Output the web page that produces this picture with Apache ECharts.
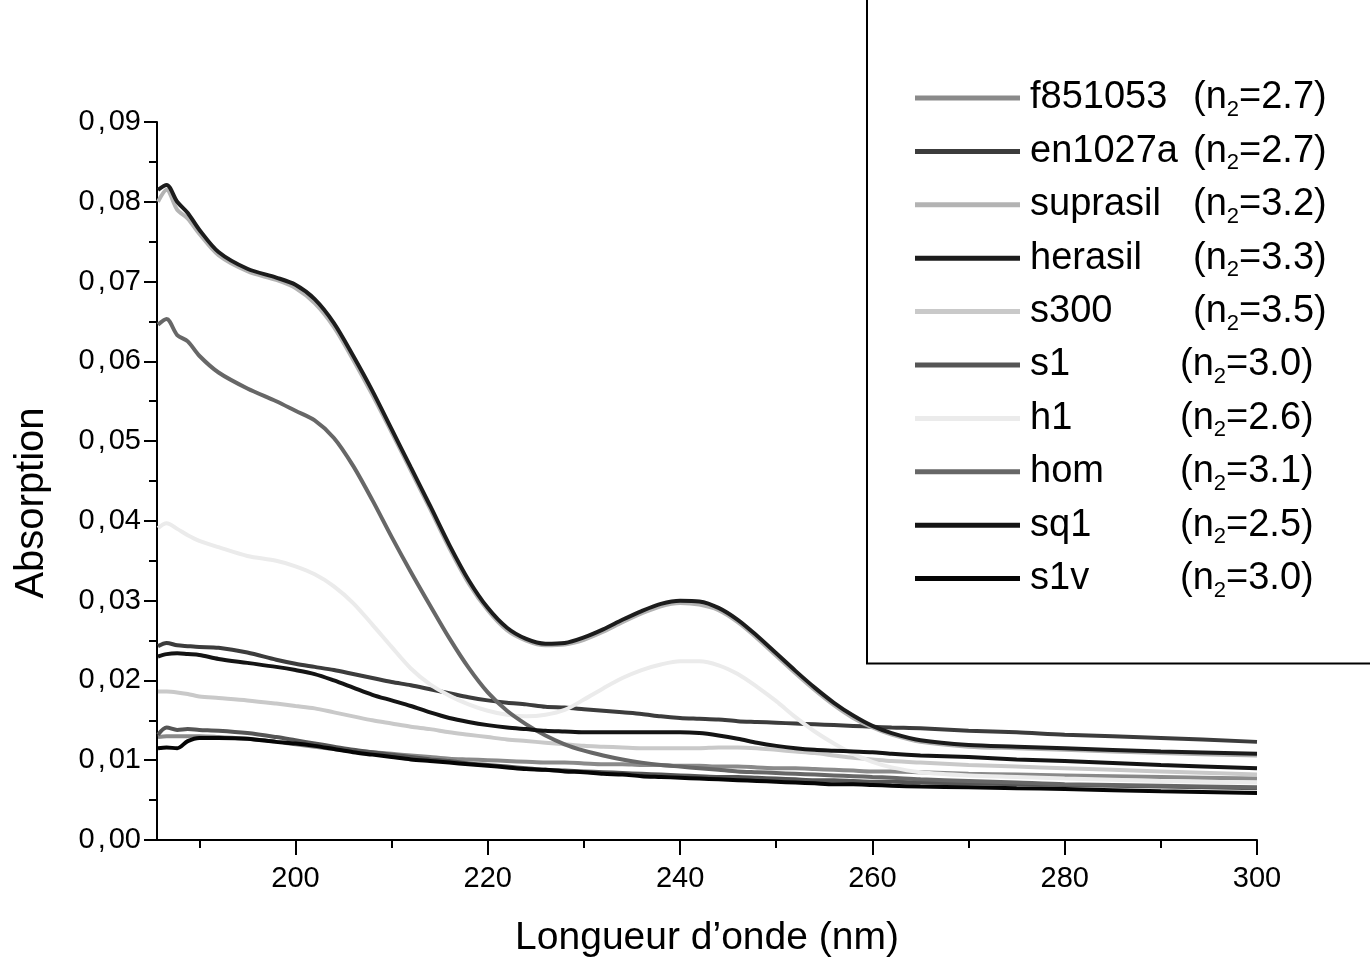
<!DOCTYPE html>
<html>
<head>
<meta charset="utf-8">
<script src="https://cdn.jsdelivr.net/npm/echarts@6/dist/echarts.min.js"></script>
<style>
html,body{margin:0;padding:0;background:#fff;overflow:hidden;}
#chart{width:1370px;height:958px;}
</style>
</head>
<body>
<div id="chart"></div>
<script>
// ---- data ----
const wavelength = [185.7, 186.6, 187.7, 188.8, 190, 192, 195, 198, 200, 202, 204, 206, 208, 210, 212, 214, 216, 218, 220, 222, 224, 226, 228, 230, 232, 234, 236, 238, 240, 242, 244, 246, 248, 250, 252, 254, 256, 258, 260, 262, 265, 270, 275, 280, 290, 300];

const f851053 = [0.0129, 0.0130, 0.0130, 0.0130, 0.0130, 0.0129, 0.0127, 0.0123, 0.0120, 0.0117, 0.0114, 0.0112, 0.0110, 0.0108, 0.0106, 0.0104, 0.0102, 0.0101, 0.0100, 0.0099, 0.0098, 0.0097, 0.0097, 0.0096, 0.0095, 0.0095, 0.0094, 0.0094, 0.0093, 0.0093, 0.0092, 0.0092, 0.0091, 0.0090, 0.0090, 0.0089, 0.0088, 0.0087, 0.0086, 0.0086, 0.0085, 0.0083, 0.0082, 0.0081, 0.0079, 0.0077];
const en1027a = [0.0243, 0.0247, 0.0244, 0.0243, 0.0242, 0.0241, 0.0235, 0.0226, 0.0221, 0.0217, 0.0213, 0.0208, 0.0203, 0.0198, 0.0194, 0.0189, 0.0184, 0.0179, 0.0175, 0.0172, 0.0170, 0.0167, 0.0166, 0.0164, 0.0162, 0.0160, 0.0158, 0.0155, 0.0153, 0.0152, 0.0151, 0.0149, 0.0148, 0.0147, 0.0146, 0.0145, 0.0144, 0.0143, 0.0142, 0.0141, 0.0140, 0.0137, 0.0135, 0.0132, 0.0128, 0.0123];
const suprasil = [0.0800, 0.0815, 0.0790, 0.0779, 0.0760, 0.0733, 0.0713, 0.0702, 0.0692, 0.0673, 0.0643, 0.0602, 0.0558, 0.0511, 0.0463, 0.0415, 0.0366, 0.0322, 0.0288, 0.0263, 0.0250, 0.0244, 0.0245, 0.0251, 0.0261, 0.0273, 0.0284, 0.0293, 0.0297, 0.0295, 0.0288, 0.0273, 0.0253, 0.0231, 0.0209, 0.0188, 0.0169, 0.0153, 0.0141, 0.0132, 0.0123, 0.0117, 0.0115, 0.0113, 0.0109, 0.0106];
const herasil = [0.0815, 0.0821, 0.0800, 0.0786, 0.0765, 0.0737, 0.0716, 0.0705, 0.0696, 0.0678, 0.0648, 0.0607, 0.0563, 0.0515, 0.0467, 0.0419, 0.0370, 0.0326, 0.0291, 0.0266, 0.0252, 0.0246, 0.0247, 0.0254, 0.0264, 0.0276, 0.0287, 0.0296, 0.0300, 0.0299, 0.0291, 0.0276, 0.0256, 0.0234, 0.0212, 0.0191, 0.0172, 0.0156, 0.0143, 0.0134, 0.0125, 0.0119, 0.0117, 0.0115, 0.0111, 0.0108];
const s300 = [0.0186, 0.0186, 0.0185, 0.0183, 0.0180, 0.0178, 0.0175, 0.0171, 0.0168, 0.0165, 0.0160, 0.0155, 0.0150, 0.0146, 0.0142, 0.0139, 0.0135, 0.0132, 0.0129, 0.0126, 0.0124, 0.0122, 0.0120, 0.0118, 0.0117, 0.0116, 0.0115, 0.0115, 0.0115, 0.0115, 0.0116, 0.0116, 0.0115, 0.0113, 0.0111, 0.0109, 0.0106, 0.0103, 0.0101, 0.0099, 0.0097, 0.0094, 0.0092, 0.0090, 0.0086, 0.0082];
const s1 = [0.0132, 0.0141, 0.0138, 0.0139, 0.0138, 0.0137, 0.0134, 0.0129, 0.0125, 0.0121, 0.0117, 0.0113, 0.0110, 0.0107, 0.0104, 0.0101, 0.0099, 0.0096, 0.0094, 0.0092, 0.0090, 0.0088, 0.0087, 0.0086, 0.0085, 0.0084, 0.0083, 0.0082, 0.0081, 0.0080, 0.0079, 0.0079, 0.0078, 0.0077, 0.0076, 0.0075, 0.0075, 0.0074, 0.0073, 0.0073, 0.0072, 0.0071, 0.0070, 0.0069, 0.0067, 0.0065];
const h1 = [0.0391, 0.0397, 0.0390, 0.0382, 0.0375, 0.0367, 0.0356, 0.0350, 0.0343, 0.0333, 0.0318, 0.0297, 0.0270, 0.0242, 0.0215, 0.0195, 0.0181, 0.0170, 0.0162, 0.0157, 0.0155, 0.0157, 0.0163, 0.0176, 0.0190, 0.0203, 0.0213, 0.0220, 0.0224, 0.0224, 0.0219, 0.0208, 0.0192, 0.0174, 0.0154, 0.0136, 0.0121, 0.0108, 0.0098, 0.0091, 0.0085, 0.0081, 0.0079, 0.0077, 0.0074, 0.0072];
const hom = [0.0646, 0.0653, 0.0633, 0.0625, 0.0607, 0.0586, 0.0566, 0.0550, 0.0538, 0.0526, 0.0504, 0.0469, 0.0426, 0.0380, 0.0336, 0.0294, 0.0253, 0.0216, 0.0185, 0.0162, 0.0145, 0.0131, 0.0120, 0.0112, 0.0106, 0.0101, 0.0097, 0.0094, 0.0092, 0.0090, 0.0088, 0.0086, 0.0085, 0.0084, 0.0083, 0.0082, 0.0081, 0.0080, 0.0079, 0.0078, 0.0076, 0.0074, 0.0072, 0.0070, 0.0068, 0.0066];
const sq1 = [0.0230, 0.0233, 0.0234, 0.0233, 0.0232, 0.0227, 0.0222, 0.0217, 0.0213, 0.0208, 0.0200, 0.0191, 0.0182, 0.0175, 0.0168, 0.0160, 0.0153, 0.0148, 0.0144, 0.0141, 0.0139, 0.0137, 0.0136, 0.0135, 0.0135, 0.0135, 0.0135, 0.0135, 0.0135, 0.0134, 0.0131, 0.0127, 0.0122, 0.0118, 0.0115, 0.0113, 0.0112, 0.0111, 0.0110, 0.0108, 0.0106, 0.0104, 0.0101, 0.0099, 0.0094, 0.0090];
const s1v = [0.0115, 0.0116, 0.0115, 0.0124, 0.0128, 0.0128, 0.0127, 0.0123, 0.0121, 0.0118, 0.0114, 0.0110, 0.0107, 0.0104, 0.0101, 0.0099, 0.0097, 0.0095, 0.0093, 0.0091, 0.0089, 0.0088, 0.0086, 0.0085, 0.0083, 0.0082, 0.0080, 0.0079, 0.0078, 0.0077, 0.0076, 0.0075, 0.0074, 0.0073, 0.0072, 0.0071, 0.0070, 0.0070, 0.0069, 0.0068, 0.0067, 0.0066, 0.0065, 0.0064, 0.0061, 0.0059];

const sampleNames = ['f851053', 'en1027a', 'suprasil', 'herasil', 's300', 's1', 'h1', 'hom', 'sq1', 's1v'];
const n2Values = ['2.7', '2.7', '3.2', '3.3', '3.5', '3.0', '2.6', '3.1', '2.5', '3.0'];
const sampleValues = [f851053, en1027a, suprasil, herasil, s300, s1, h1, hom, sq1, s1v];
const sampleColors = ['#8a8a8a', '#3c3c3c', '#b3b3b3', '#1c1c1c', '#c9c9c9', '#555555', '#ebebeb', '#676767', '#141414', '#050505'];

const xMajorTicks = [200, 220, 240, 260, 280, 300];
const xMinorTicks = [190, 210, 230, 250, 270, 290];

// ---- chart ----
const FONT = "'Liberation Sans', Arial, Helvetica, sans-serif";
const chart = echarts.init(document.getElementById('chart'), null, {renderer: 'canvas'});

const series = sampleNames.map((name, i) => ({
  name: name,
  type: 'line',
  xAxisIndex: 0,
  yAxisIndex: 0,
  data: wavelength.map((w, k) => [w, sampleValues[i][k]]),
  showSymbol: false,
  symbol: 'none',
  smooth: 0.3,
  lineStyle: {color: sampleColors[i], width: 4},
  itemStyle: {color: sampleColors[i]},
  emphasis: {disabled: true},
  z: 2 + i
}));

const option = {
  animation: false,
  backgroundColor: '#ffffff',
  textStyle: {fontFamily: FONT, color: '#000'},
  grid: {left: 157, right: 113, top: 122, bottom: 118, containLabel: false, outerBoundsMode: 'none'},
  legend: {
    data: sampleNames,
    orient: 'vertical',
    left: 867,
    top: -2,
    padding: [81, 300, 62, 48],
    borderColor: '#000',
    borderWidth: 2,
    backgroundColor: '#fff',
    icon: 'rect',
    itemWidth: 105,
    itemHeight: 5,
    itemGap: 11.4,
    selectedMode: false,
    formatter: function (name) {
      const i = sampleNames.indexOf(name);
      const nm = i < 5 ? 'a' : 'b';
      return '{' + nm + '|' + name + '}{p|(n}{s|2}{p|=' + n2Values[i] + ')}';
    },
    textStyle: {
      fontFamily: FONT,
      color: '#000',
      fontSize: 38,
      rich: {
        a: {fontFamily: FONT, fontSize: 38, lineHeight: 46, width: 163, padding: [0, 0, 0, 5], color: '#000'},
        b: {fontFamily: FONT, fontSize: 38, lineHeight: 46, width: 150, padding: [0, 0, 0, 5], color: '#000'},
        p: {fontFamily: FONT, fontSize: 38, lineHeight: 46, color: '#000'},
        s: {fontFamily: FONT, fontSize: 22, lineHeight: 10, verticalAlign: 'bottom', color: '#000'}
      }
    }
  },
  xAxis: [
    {
      type: 'value',
      min: 185.6,
      max: 300,
      position: 'bottom',
      name: 'Longueur d\u2019onde (nm)',
      nameLocation: 'middle',
      nameGap: 79,
      nameTextStyle: {fontFamily: FONT, fontSize: 39, color: '#000'},
      axisLine: {show: true, onZero: false, lineStyle: {color: '#000', width: 2}},
      axisTick: {show: true, length: 15, lineStyle: {color: '#000', width: 2}, customValues: xMajorTicks},
      axisLabel: {show: true, fontFamily: FONT, fontSize: 29, color: '#000', margin: 24, customValues: xMajorTicks},
      splitLine: {show: false},
      minorTick: {show: false}
    },
    {
      type: 'value',
      min: 185.6,
      max: 300,
      position: 'bottom',
      offset: 0,
      axisLine: {show: false, onZero: false},
      axisTick: {show: true, length: 8, lineStyle: {color: '#000', width: 2}, customValues: xMinorTicks},
      axisLabel: {show: false},
      splitLine: {show: false}
    }
  ],
  yAxis: {
    type: 'value',
    min: 0,
    max: 0.09,
    interval: 0.01,
    name: 'Absorption',
    nameLocation: 'middle',
    nameGap: 105,
    nameRotate: 90,
    nameTextStyle: {fontFamily: FONT, fontSize: 40, color: '#000', padding: [0, 44, 0, 0]},
    axisLine: {show: true, onZero: false, lineStyle: {color: '#000', width: 2}},
    axisTick: {show: true, length: 13, lineStyle: {color: '#000', width: 2}},
    minorTick: {show: true, splitNumber: 2, length: 8, lineStyle: {color: '#000', width: 2}},
    axisLabel: {
      fontFamily: FONT, fontSize: 29, color: '#000', margin: 16,
      formatter: function (v) {
        const s = v.toFixed(2).split('.');
        return '{d|' + s[0] + '}{c|,}{d|' + s[1] + '}';
      },
      rich: {
        d: {fontFamily: FONT, fontSize: 29, color: '#000'},
        c: {fontFamily: FONT, fontSize: 29, color: '#000', padding: [0, 3, 0, 3]}
      }
    },
    splitLine: {show: false}
  },
  series: series
};

chart.setOption(option);
</script>
</body>
</html>
